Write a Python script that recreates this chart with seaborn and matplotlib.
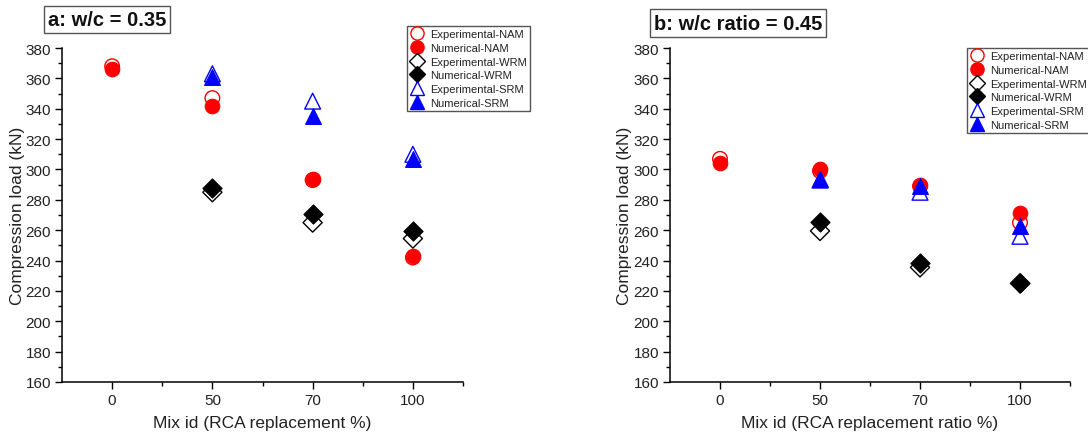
import matplotlib
matplotlib.use("Agg")
import matplotlib.pyplot as plt
from matplotlib.ticker import MultipleLocator, FixedLocator
import seaborn as sns
import pandas as pd

# ---------------- data ----------------
mix_labels = ["0", "50", "70", "100"]

# panel a: w/c = 0.35
a_exp_nam = [368, 347, 293, 242]
a_num_nam = [366, 342, 294, 243]
a_exp_wrm = [None, 285, 265, 254.5]
a_num_wrm = [None, 287.5, 270.5, 259.5]
a_exp_srm = [None, 363, 345, 310]
a_num_srm = [None, 361, 335, 307]

# panel b: w/c ratio = 0.45
b_exp_nam = [307, 299, 289, 265]
b_num_nam = [304.5, 300, 290, 271]
b_exp_wrm = [None, 259.5, 235.5, 225]
b_num_wrm = [None, 265.5, 238.5, 225]
b_exp_srm = [None, 293, 285, 256]
b_num_srm = [None, 294, 289, 263]

series_names = ["Experimental-NAM", "Numerical-NAM", "Experimental-WRM",
                "Numerical-WRM", "Experimental-SRM", "Numerical-SRM"]

styles = {
    "Experimental-NAM": dict(marker="o", color="#ff0000", filled=False, s=110),
    "Numerical-NAM":    dict(marker="o", color="#ff0000", filled=True, s=110),
    "Experimental-WRM": dict(marker="D", color="#000000", filled=False, s=95),
    "Numerical-WRM":    dict(marker="D", color="#000000", filled=True, s=95),
    "Experimental-SRM": dict(marker="^", color="#0000ff", filled=False, s=130),
    "Numerical-SRM":    dict(marker="^", color="#0000ff", filled=True, s=130),
}

def make_df(vals):
    rows = []
    for name, v in zip(series_names, vals):
        for i, y in enumerate(v):
            if y is not None:
                rows.append(dict(series=name, pos=i, load=y))
    return pd.DataFrame(rows)

df_a = make_df([a_exp_nam, a_num_nam, a_exp_wrm, a_num_wrm, a_exp_srm, a_num_srm])
df_b = make_df([b_exp_nam, b_num_nam, b_exp_wrm, b_num_wrm, b_exp_srm, b_num_srm])

# ---------------- style ----------------
sns.set_style("ticks")
plt.rcParams["font.family"] = ["Liberation Sans", "DejaVu Sans"]

fig = plt.figure(figsize=(10.88, 4.39), dpi=100)
W, H = 1088, 439

def px_axes(x0, y0, x1, y1):
    return fig.add_axes([x0 / W, 1 - y1 / H, (x1 - x0) / W, (y1 - y0) / H])

ax_a = px_axes(62, 49, 463, 383)
ax_b = px_axes(670, 49, 1070, 383)

def draw(ax, df, xlabel, title, title_xy, leg_xy, ylab_x):
    handles = []
    for name in series_names:
        st = styles[name]
        sub = df[df.series == name]
        if st["filled"]:
            sns.scatterplot(data=sub, x="pos", y="load", ax=ax, marker=st["marker"],
                            s=st["s"], color=st["color"], edgecolor=st["color"],
                            linewidth=0.8, label=name, legend=False, zorder=3)
        else:
            sns.scatterplot(data=sub, x="pos", y="load", ax=ax, marker=st["marker"],
                            s=st["s"], facecolor="none", edgecolor=st["color"],
                            linewidth=1.0, label=name, legend=False, zorder=3)
        handles.append(plt.Line2D([], [], linestyle="none", marker=st["marker"],
                                  markersize=9.5 if st["marker"] != "D" else 8.5,
                                  markerfacecolor=st["color"] if st["filled"] else "none",
                                  markeredgecolor=st["color"], markeredgewidth=1.0,
                                  label=name))
    ax.set_xlim(-0.5, 3.5)
    ax.set_ylim(160, 380)
    ax.xaxis.set_major_locator(FixedLocator([0, 1, 2, 3]))
    ax.xaxis.set_minor_locator(FixedLocator([0.5, 1.5, 2.5, 3.5]))
    ax.set_xticklabels(mix_labels)
    ax.yaxis.set_major_locator(MultipleLocator(20))
    ax.yaxis.set_minor_locator(MultipleLocator(10))
    ax.tick_params(axis="both", which="major", direction="out", length=5, width=1,
                   labelsize=11, color="black", labelcolor="#222222", pad=3)
    ax.tick_params(axis="both", which="minor", direction="out", length=3, width=1,
                   color="black")
    for sp in ["top", "right"]:
        ax.spines[sp].set_visible(False)
    for sp in ["left", "bottom"]:
        ax.spines[sp].set_color("black")
        ax.spines[sp].set_linewidth(1.1)
    ax.set_xlabel(xlabel, fontsize=12.5, color="#222222")
    ax.set_ylabel("Compression load (kN)", fontsize=12.5, color="#222222")
    ax.xaxis.set_label_coords(0.5, -0.1)
    ax.yaxis.set_label_coords(ylab_x, 0.5)
    fig.text(title_xy[0] / W, 1 - title_xy[1] / H, title, ha="center", va="center",
             fontsize=14.5, fontweight="bold", color="#111111",
             bbox=dict(boxstyle="square,pad=0.2", facecolor="white",
                       edgecolor="#555555", linewidth=1.0))
    leg = fig.legend(handles=handles, loc="upper left",
                     bbox_to_anchor=(leg_xy[0] / W, 1 - leg_xy[1] / H),
                     fontsize=8, frameon=True, fancybox=False, framealpha=1,
                     edgecolor="#555555", labelspacing=0.33, handletextpad=0.6,
                     borderpad=0.3, handlelength=1.2, borderaxespad=0)
    leg.get_frame().set_linewidth(1.0)
    for t in leg.get_texts():
        t.set_color("#222222")

draw(ax_a, df_a, "Mix id (RCA replacement %)", "a: w/c = 0.35", (107, 20.5), (407, 27), -0.092)
draw(ax_b, df_b, "Mix id (RCA replacement ratio %)", "b: w/c ratio = 0.45", (738, 24), (967, 49), -0.095)

fig.savefig("out.png", dpi=100)
